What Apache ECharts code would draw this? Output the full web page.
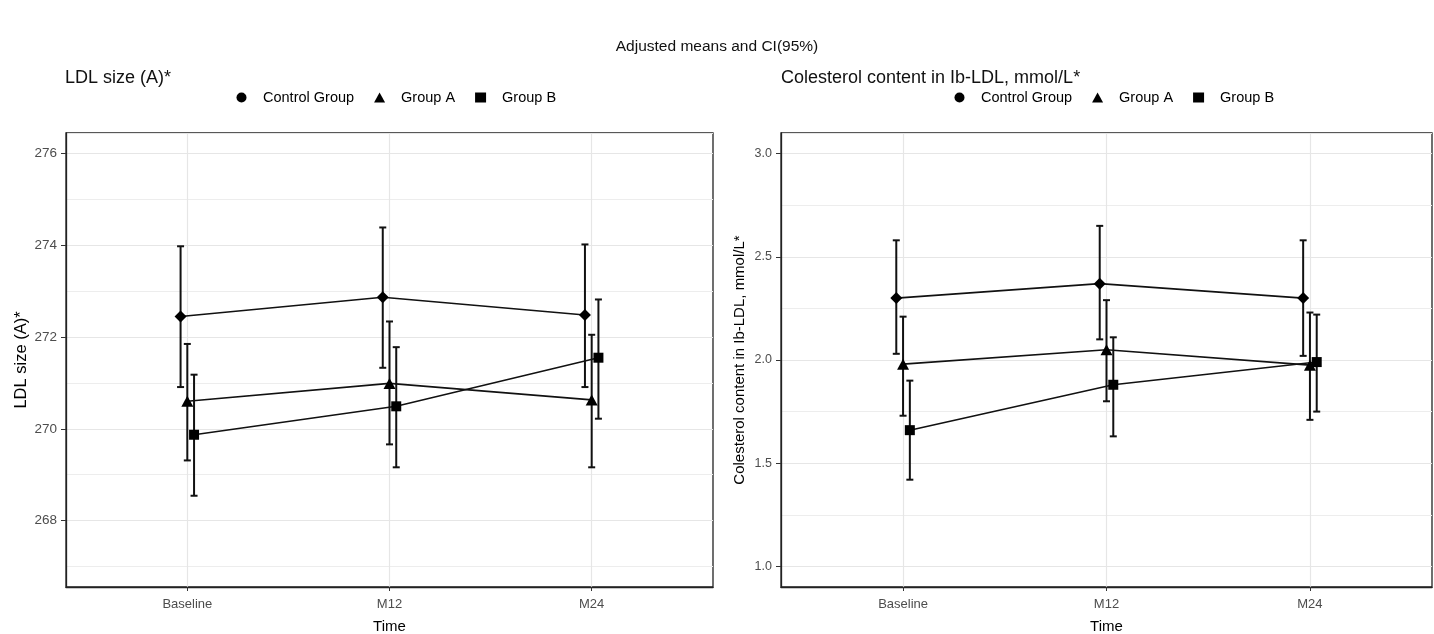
<!DOCTYPE html>
<html>
<head>
<meta charset="utf-8">
<script src="https://cdn.jsdelivr.net/npm/echarts@6/dist/echarts.min.js"></script>
<style>
html,body{margin:0;padding:0;background:#fff;}
#chart{width:1434px;height:634px;}
</style>
</head>
<body>
<div id="chart"></div>
<script>
// ---------- data ----------
const timepoints = ['Baseline', 'M12', 'M24'];
const groups = ['Control Group', 'Group A', 'Group B'];

// Panel 1: LDL size (A)*
const ldlCtrlMean = [272.45, 272.87, 272.48];
const ldlCtrlLow  = [270.91, 271.33, 270.91];
const ldlCtrlHigh = [273.98, 274.39, 274.02];
const ldlAMean = [270.60, 270.99, 270.63];
const ldlALow  = [269.31, 269.66, 269.16];
const ldlAHigh = [271.85, 272.34, 272.05];
const ldlBMean = [269.87, 270.49, 271.55];
const ldlBLow  = [268.54, 269.16, 270.22];
const ldlBHigh = [271.18, 271.78, 272.82];

// Panel 2: Colesterol content in Ib-LDL, mmol/L*
const cholCtrlMean = [2.30, 2.37, 2.30];
const cholCtrlLow  = [2.03, 2.10, 2.02];
const cholCtrlHigh = [2.58, 2.65, 2.58];
const cholAMean = [1.98, 2.05, 1.975];
const cholALow  = [1.73, 1.80, 1.71];
const cholAHigh = [2.21, 2.29, 2.23];
const cholBMean = [1.66, 1.88, 1.99];
const cholBLow  = [1.42, 1.63, 1.75];
const cholBHigh = [1.90, 2.11, 2.22];

// ---------- layout helpers ----------
const DODGE = [-1/30, 0, 1/30];     // position_dodge offsets (x units)
const SYMBOLS = ['diamond', 'triangle', 'rect'];
const SYMBOL_SIZES = [12, [12, 11], 10];
const LEGEND_ICONS = ['circle', 'triangle', 'rect'];
const FONT = 'Liberation Sans';

// visible category axis: 17 slots spanning 0.4..3.6 in 0.2 steps, categories at slots 3, 8, 13
const slotCats = [];
for (let i = 0; i < 17; i++) {
  slotCats.push((i - 3) % 5 === 0 && i >= 3 && i <= 13 ? timepoints[(i - 3) / 5] : '');
}
const isCatSlot = (idx) => idx >= 3 && idx <= 13 && (idx - 3) % 5 === 0;

const gridColor = '#e6e6e6';
const labelColor = '#4d4d4d';

function visibleX(gridIndex) {
  return {
    type: 'category', gridIndex, data: slotCats, boundaryGap: false,
    position: 'bottom',
    name: 'Time', nameLocation: 'middle', nameGap: 32,
    nameTextStyle: { color: '#000', fontSize: 15, fontFamily: FONT },
    axisLine: { show: true, lineStyle: { color: '#222', width: 1.3 } },
    axisTick: { show: true, interval: (i) => isCatSlot(i), length: 4, lineStyle: { color: '#333' } },
    axisLabel: { show: true, interval: (i) => isCatSlot(i), color: labelColor, fontSize: 13, margin: 11, fontFamily: FONT },
    splitLine: { show: true, interval: (i) => isCatSlot(i), lineStyle: { color: gridColor, width: 1.2 } }
  };
}
function hiddenX(gridIndex) {
  return { type: 'value', gridIndex, min: 0.4, max: 3.6, show: false, position: 'top',
           splitLine: { show: false } };
}
function yAxis(gridIndex, min, max, name, nameGap, nameSize, labelSize, digits) {
  return {
    type: 'value', gridIndex, min, max, splitNumber: 5, scale: true,
    name, nameLocation: 'middle', nameGap,
    nameTextStyle: { color: '#000', fontSize: nameSize, fontFamily: FONT },
    axisLine: { show: true, lineStyle: { color: '#222', width: 1.3 } },
    axisTick: { show: true, length: 5, lineStyle: { color: '#333' } },
    axisLabel: { color: labelColor, fontSize: labelSize, margin: 9, showMinLabel: false, showMaxLabel: false,
                 fontFamily: FONT,
                 formatter: (v) => digits ? v.toFixed(digits) : String(Math.round(v)) },
    splitLine: { show: true, lineStyle: { color: gridColor, width: 1.2 } },
    minorTick: { show: false, splitNumber: 2 },
    minorSplitLine: { show: true, lineStyle: { color: '#ededed', width: 1 } }
  };
}

function errRender(params, api) {
  const x = api.value(0), lo = api.value(1), hi = api.value(2);
  const a = api.coord([x, lo]);
  const b = api.coord([x, hi]);
  const w = 3.5;
  const st = { stroke: '#111', lineWidth: 2 };
  return {
    type: 'group',
    children: [
      { type: 'line', shape: { x1: a[0], y1: a[1], x2: b[0], y2: b[1] }, style: st },
      { type: 'line', shape: { x1: a[0] - w, y1: a[1], x2: a[0] + w, y2: a[1] }, style: st },
      { type: 'line', shape: { x1: b[0] - w, y1: b[1], x2: b[0] + w, y2: b[1] }, style: st }
    ]
  };
}

function panelSeries(gridIdx, means, lows, highs) {
  const xAxisIndex = gridIdx * 2 + 1;
  const yAxisIndex = gridIdx;
  const out = [];
  groups.forEach((g, gi) => {
    out.push({
      type: 'custom', name: g + ' CI', xAxisIndex, yAxisIndex,
      renderItem: errRender, encode: { x: 0, y: [1, 2] }, z: 2,
      data: timepoints.map((t, ti) => [ti + 1 + DODGE[gi], lows[gi][ti], highs[gi][ti]]),
      silent: true
    });
  });
  groups.forEach((g, gi) => {
    out.push({
      type: 'line', name: g, xAxisIndex, yAxisIndex, z: 3,
      symbol: SYMBOLS[gi], symbolSize: SYMBOL_SIZES[gi], showAllSymbol: true,
      lineStyle: { color: '#111', width: 1.6 },
      itemStyle: { color: '#000' },
      data: timepoints.map((t, ti) => [ti + 1 + DODGE[gi], means[gi][ti]]),
      silent: true, animation: false
    });
  });
  return out;
}

function legend(left) {
  return {
    left, top: 90, orient: 'horizontal', selectedMode: false, padding: 0,
    itemWidth: 11, itemHeight: 10, itemGap: 20,
    textStyle: { color: '#000', fontSize: 14.5, fontFamily: FONT, padding: [0, 0, 0, 11] },
    data: groups.map((g, gi) => ({ name: g, icon: LEGEND_ICONS[gi] }))
  };
}

const option = {
  animation: false,
  backgroundColor: '#fff',
  title: [
    { text: 'Adjusted means and CI(95%)', left: 'center', top: 34,
      textStyle: { fontSize: 15.5, fontWeight: 'normal', color: '#111', fontFamily: FONT } },
    { text: 'LDL size (A)*', left: 60, top: 64,
      textStyle: { fontSize: 18, fontWeight: 'normal', color: '#111', fontFamily: FONT } },
    { text: 'Colesterol content in Ib-LDL, mmol/L*', left: 776, top: 64,
      textStyle: { fontSize: 18, fontWeight: 'normal', color: '#111', fontFamily: FONT } }
  ],
  legend: [legend(236.5), legend(954.5)],
  grid: [
    { left: 66, top: 133, width: 647, height: 454, show: true, borderColor: '#222', borderWidth: 1.3,
      backgroundColor: 'transparent', containLabel: false, outerBoundsMode: 'none' },
    { left: 781, top: 133, width: 651, height: 454, show: true, borderColor: '#222', borderWidth: 1.3,
      backgroundColor: 'transparent', containLabel: false, outerBoundsMode: 'none' }
  ],
  xAxis: [visibleX(0), hiddenX(0), visibleX(1), hiddenX(1)],
  yAxis: [
    yAxis(0, 266.55, 276.45, 'LDL size (A)*', 36, 16.5, 13.5, 0),
    yAxis(1, 0.9, 3.1, 'Colesterol content in Ib-LDL, mmol/L*', 33.5, 15, 12.5, 1)
  ],
  series: [
    ...panelSeries(0, [ldlCtrlMean, ldlAMean, ldlBMean], [ldlCtrlLow, ldlALow, ldlBLow], [ldlCtrlHigh, ldlAHigh, ldlBHigh]),
    ...panelSeries(1, [cholCtrlMean, cholAMean, cholBMean], [cholCtrlLow, cholALow, cholBLow], [cholCtrlHigh, cholAHigh, cholBHigh])
  ]
};

const chart = echarts.init(document.getElementById('chart'), null, { renderer: 'canvas' });
chart.setOption(option);
</script>
</body>
</html>
